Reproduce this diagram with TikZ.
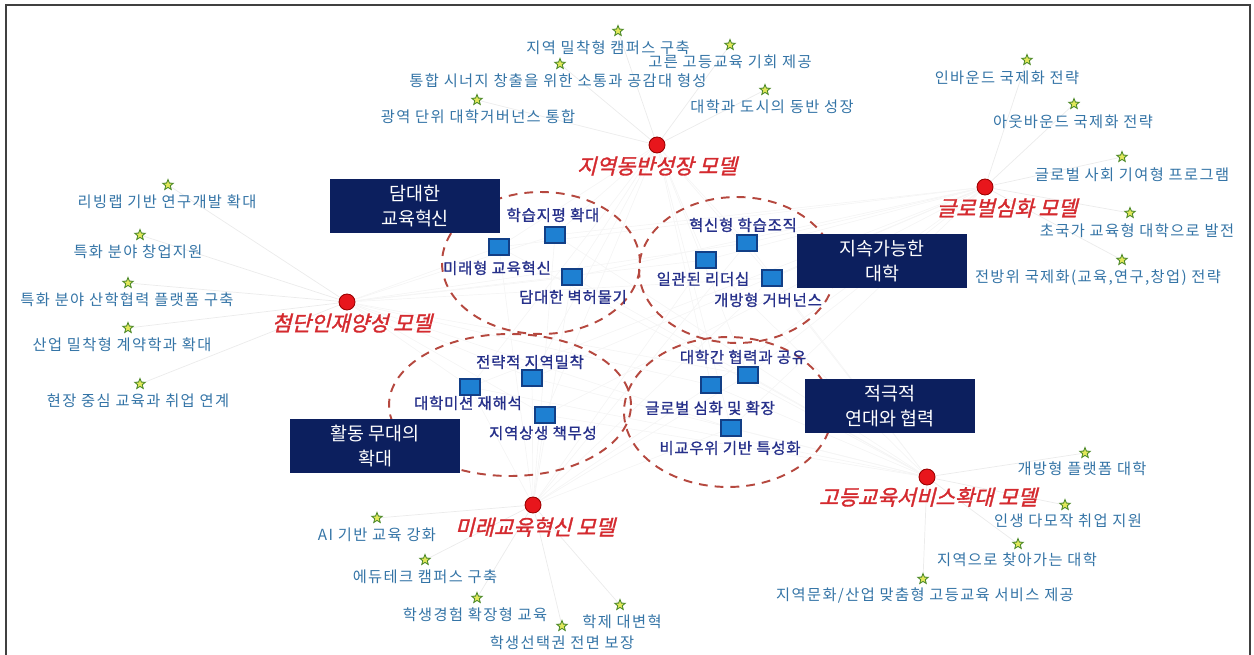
\documentclass[tikz,border=0pt]{standalone}
\usepackage{fontspec}
\setmainfont{Noto Sans CJK KR}
\newfontfamily\krslant[FakeSlant=0.25,FakeBold=1.5]{Noto Sans CJK KR}
\newfontfamily\krbold[FakeBold=1.2,LetterSpace=5]{Noto Sans CJK KR}
\newfontfamily\kritem[LetterSpace=9]{Noto Sans CJK KR}
\usepackage{tikz}
\usetikzlibrary{shapes.geometric,backgrounds}
\usepackage{xcolor}
\definecolor{navybox}{HTML}{0C1F5E}
\definecolor{itemblue}{HTML}{3474A6}
\definecolor{keynavy}{HTML}{26308A}
\definecolor{sqblue}{HTML}{1E80D2}
\definecolor{sqedge}{HTML}{123F86}
\definecolor{modelred}{HTML}{D42A2F}
\definecolor{dotred}{HTML}{E8161C}
\definecolor{ringred}{HTML}{B5483F}
\definecolor{starfill}{HTML}{E2E85A}
\definecolor{staredge}{HTML}{4E8A2A}

\begin{document}
\begin{tikzpicture}[x=0.02cm, y=-0.02cm,
  box/.style={fill=navybox, text=white, minimum width=3.4cm, minimum height=1.06cm, align=center, font=\fontsize{10.5}{14}\selectfont},
  keysq/.style={rectangle, fill=sqblue, draw=sqedge, line width=0.6pt, minimum width=0.4cm, minimum height=0.32cm, inner sep=0pt},
  keytext/.style={text=keynavy, font=\krbold\fontsize{8.8}{10}\selectfont, inner sep=1pt},
  model/.style={circle, fill=dotred, draw=red!60!black, line width=0.5pt, minimum size=0.32cm, inner sep=0pt},
  modeltext/.style={text=modelred, font=\krslant\fontsize{12}{13}\selectfont, inner sep=1pt},
  starmark/.style={star, star points=5, star point ratio=2.3, fill=starfill, draw=staredge, line width=0.5pt, minimum size=0.22cm, inner sep=0pt},
  itemtext/.style={text=itemblue, font=\kritem\fontsize{8.7}{10}\selectfont, inner sep=1pt},
  ring/.style={draw=ringred, line width=1.1pt, dash pattern=on 5pt off 4pt},
  lnk/.style={draw=gray!16, line width=0.4pt}
]
\useasboundingbox (0,0) rectangle (1254,655);

% Frame
\draw[line width=1.3pt, black!75] (6,655) -- (6,5) -- (1250,5) -- (1250,655);

% Rings
\draw[ring] (541,263) ellipse [x radius=1.98cm, y radius=1.42cm];
\draw[ring] (737,270) ellipse [x radius=1.96cm, y radius=1.46cm];
\draw[ring] (510,405) ellipse [x radius=2.42cm, y radius=1.42cm];
\draw[ring] (728,412) ellipse [x radius=2.08cm, y radius=1.5cm];

% Values
\node[box] (b-edu) at (415,206) {담대한\\교육혁신};
\node[box] (b-sus) at (882,261) {지속가능한\\대학};
\node[box] (b-act) at (375,446) {활동 무대의\\확대};
\node[box] (b-sol) at (890,406) {적극적\\연대와 협력};

% Key strategies
\foreach \i/\sx/\sy/\lx/\ly/\txt in {
  1/499/247/497/268/미래형 교육혁신, 2/555/235/553/215/학습지평 확대, 3/572/277/573/297/담대한 벽허물기,
  4/747/243/743/225/혁신형 학습조직, 5/706/260/703/279/일관된 리더십, 6/772/278/768/300/개방형 거버넌스,
  7/532/378/530/362/전략적 지역밀착, 8/470/387/468/403/대학미션 재해석, 9/545/415/543/433/지역상생 책무성,
  10/748/375/743/357/대학간 협력과 공유, 11/711/385/710/408/글로벌 심화 및 확장, 12/731/428/730/448/비교우위 기반 특성화}{
  \node[keysq] (q\i) at (\sx,\sy) {};
  \node[keytext] (qt\i) at (\lx,\ly) {\txt};
}

% Models
\node[model] (m-region) at (657,145) {};
\node[modeltext] (m-region-t) at (657,166) {지역동반성장 모델};
\node[model] (m-global) at (985,187) {};
\node[modeltext] (m-global-t) at (1007,208) {글로벌심화 모델};
\node[model] (m-talent) at (347,302) {};
\node[modeltext] (m-talent-t) at (352,323) {첨단인재양성 모델};
\node[model] (m-service) at (927,477) {};
\node[modeltext] (m-service-t) at (928,497) {고등교육서비스확대 모델};
\node[model] (m-future) at (533,505) {};
\node[modeltext] (m-future-t) at (535,527) {미래교육혁신 모델};

% Tasks
\foreach \i/\sx/\sy/\lx/\txt in {
  1/618/31/608/지역 밀착형 캠퍼스 구축, 2/730/45/730/고른 고등교육 기회 제공,
  3/560/64/558/통합 시너지 창출을 위한 소통과 공감대 형성, 4/765/90/772/대학과 도시의 동반 성장,
  5/477/100/478/광역 단위 대학거버넌스 통합}{
  \node[starmark] (s-region-\i) at (\sx,\sy) {};
  \node[itemtext] (t-region-\i) at (\lx,\sy+17) {\txt};
}
\foreach \i/\sx/\sy/\lx/\txt in {
  1/1027/60/1007/인바운드 국제화 전략, 2/1074/104/1073/아웃바운드 국제화 전략,
  3/1122/157/1132/글로벌 사회 기여형 프로그램, 4/1130/213/1137/초국가 교육형 대학으로 발전,
  5/1122/260/1098/{전방위 국제화(교육,연구,창업) 전략}}{
  \node[starmark] (s-global-\i) at (\sx,\sy) {};
  \node[itemtext] (t-global-\i) at (\lx,\sy+18) {\txt};
}
\foreach \i/\sx/\sy/\lx/\txt in {
  1/168/185/167/리빙랩 기반 연구개발 확대, 2/140/235/138/특화 분야 창업지원,
  3/128/283/127/특화 분야 산학협력 플랫폼 구축, 4/128/328/122/산업 밀착형 계약학과 확대,
  5/140/384/138/현장 중심 교육과 취업 연계}{
  \node[starmark] (s-talent-\i) at (\sx,\sy) {};
  \node[itemtext] (t-talent-\i) at (\lx,\sy+17) {\txt};
}
\foreach \i/\sx/\sy/\lx/\txt in {
  1/1085/453/1082/개방형 플랫폼 대학, 2/1065/505/1068/인생 다모작 취업 지원,
  3/1018/544/1017/지역으로 찾아가는 대학, 4/923/579/925/{지역문화/산업 맞춤형 고등교육 서비스 제공}}{
  \node[starmark] (s-service-\i) at (\sx,\sy) {};
  \node[itemtext] (t-service-\i) at (\lx,\sy+16) {\txt};
}
\foreach \i/\sx/\sy/\lx/\txt in {
  1/377/518/377/AI 기반 교육 강화, 2/425/560/425/에듀테크 캠퍼스 구축,
  3/477/598/475/학생경험 확장형 교육, 4/620/605/622/학제 대변혁, 5/562/626/562/학생선택권 전면 보장}{
  \node[starmark] (s-future-\i) at (\sx,\sy) {};
  \node[itemtext] (t-future-\i) at (\lx,\sy+17) {\txt};
}

% Links
\begin{scope}[on background layer]
\foreach \m/\n in {region/5, global/5, talent/5, service/4, future/5}{
  \foreach \i in {1,...,\n} \draw[lnk] (m-\m) -- (s-\m-\i);
  \foreach \q in {1,...,12} \draw[lnk, draw=gray!8] (m-\m) -- (q\q);
}
\end{scope}
\end{tikzpicture}
\end{document}
